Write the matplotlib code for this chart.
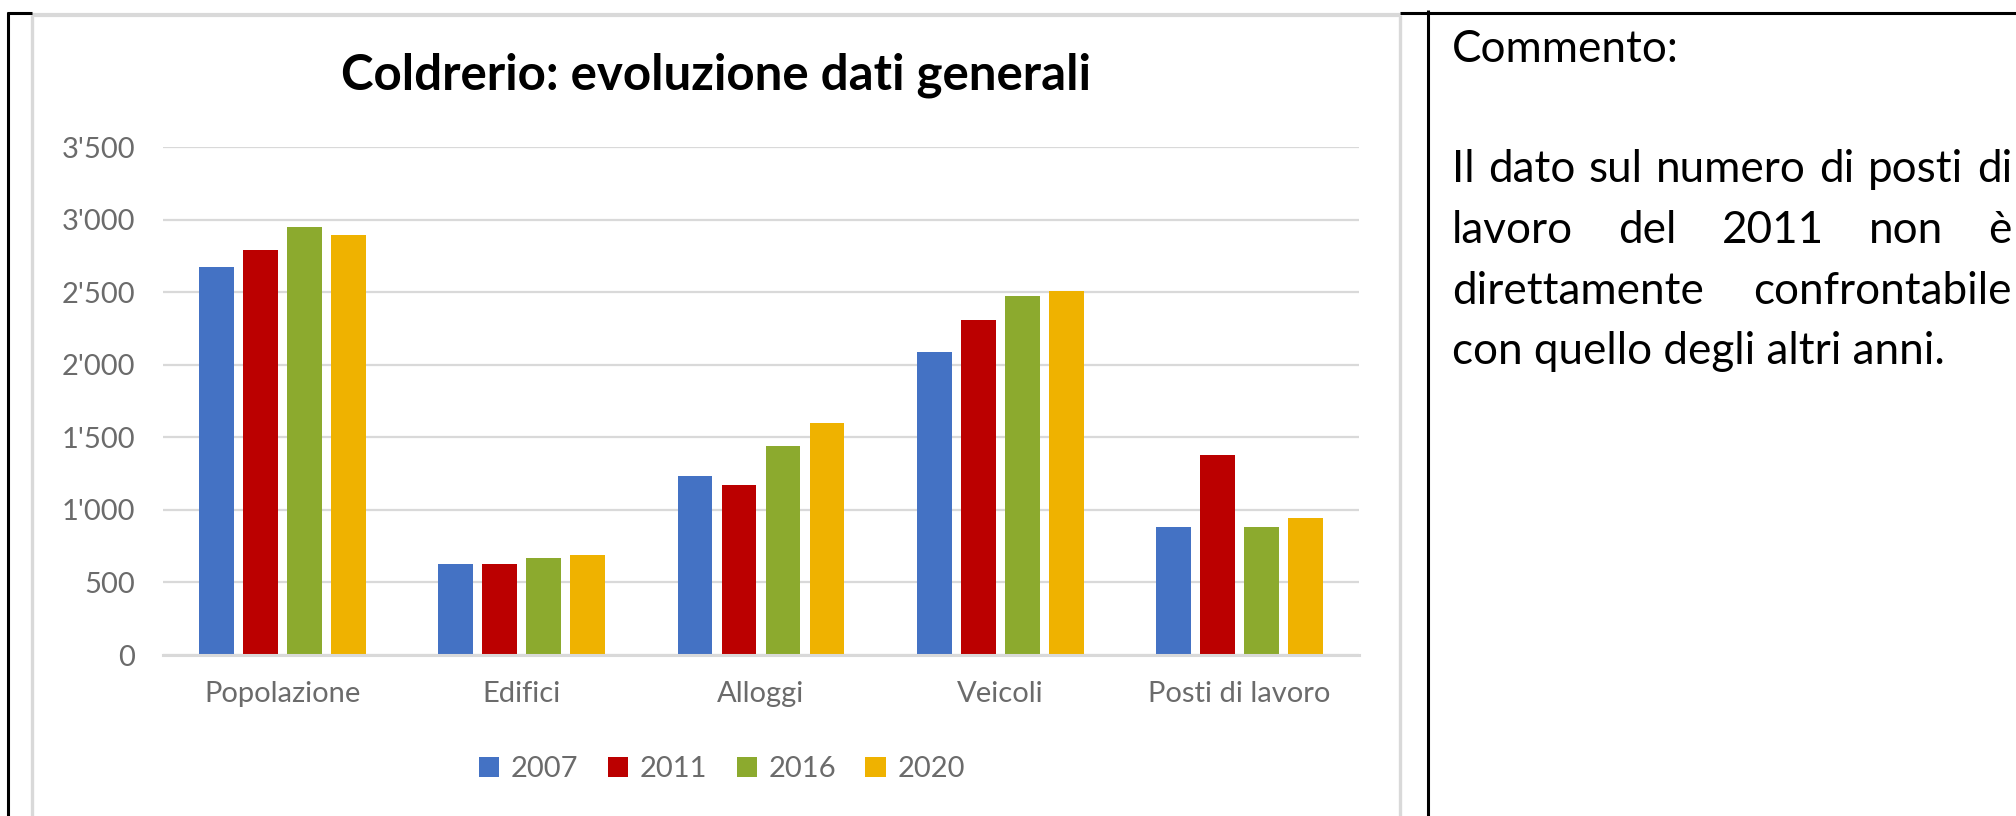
import numpy as np
import matplotlib
matplotlib.use('Agg')
import matplotlib.pyplot as plt
from matplotlib.lines import Line2D
from matplotlib.ticker import FuncFormatter, MultipleLocator

# Dati
categorie = ['Popolazione', 'Edifici', 'Alloggi', 'Veicoli', 'Posti di lavoro']
anni = ['2007', '2011', '2016', '2020']
valori_2007 = [2670, 630, 1230, 2090, 885]
valori_2011 = [2790, 630, 1170, 2310, 1375]
valori_2016 = [2950, 670, 1440, 2470, 885]
valori_2020 = [2895, 690, 1595, 2510, 945]
colori = ['#4472C4', '#BB0000', '#8CAA2E', '#EFB200']

titolo = 'Coldrerio: evoluzione dati generali'
commento_titolo = 'Commento:'
commento_righe = ['Il dato sul numero di posti di',
                  'lavoro del 2011 non è',
                  'direttamente confrontabile',
                  'con quello degli altri anni.']

W, H = 2016, 816
plt.rcParams['font.family'] = ['Lato', 'DejaVu Sans']

fig = plt.figure(figsize=(W / 100, H / 100), dpi=100)


def fx(px):
    return px / W


def fy(py):
    return 1 - py / H


# Grafico a barre
ax = fig.add_axes([fx(163), fy(655), fx(1359) - fx(163), fy(147) - fy(655)])
serie = [valori_2007, valori_2011, valori_2016, valori_2020]
x = np.arange(len(categorie))
passo = 0.184
largh = 0.146
for i, (vals, anno, col) in enumerate(zip(serie, anni, colori)):
    ax.bar(x + (i - 1.5) * passo, vals, largh, color=col, label=anno, zorder=2)

ax.set_xlim(-0.5, len(categorie) - 0.5)
ax.set_ylim(0, 3500)
ax.yaxis.set_major_locator(MultipleLocator(500))
ax.yaxis.set_major_formatter(FuncFormatter(lambda v, p: f"{int(v):,}".replace(',', "'")))
ax.set_xticks(x, categorie)
ax.tick_params(length=0, labelsize=21, labelcolor='#6b6b6b')
ax.tick_params(axis='y', pad=20)
ax.tick_params(axis='x', pad=19)
ax.grid(axis='y', color='#d9d9d9', lw=1.6, zorder=0)
ax.set_axisbelow(True)
for s in ['top', 'right', 'left']:
    ax.spines[s].set_visible(False)
ax.spines['bottom'].set_color('#d9d9d9')
ax.spines['bottom'].set_linewidth(2.2)
ax.spines['bottom'].set_zorder(3)

# Titolo e legenda
fig.text(fx(716), fy(90), titolo, ha='center', va='baseline',
         fontsize=35.5, fontweight='bold', color='black')
fig.legend(loc='center', bbox_to_anchor=(fx(722), fy(769)), ncol=4,
           frameon=False, fontsize=21, handlelength=0.7, handleheight=0.7,
           handletextpad=0.4, columnspacing=1.0, labelcolor='#6b6b6b')

# Bordi della tabella e cornice del grafico
def linea(xs, ys, col, lw):
    fig.add_artist(Line2D([fx(v) for v in xs], [fy(v) for v in ys],
                          transform=fig.transFigure, color=col, lw=lw,
                          solid_capstyle='butt'))

linea([32, 32], [15, H], '#d9d9d9', 2.4)
linea([32, 1400], [15, 15], '#d9d9d9', 3.0)
linea([1400, 1400], [15, H], '#d9d9d9', 2.4)
linea([8, 8], [12, H], 'black', 2.2)
linea([7, 32], [13, 13], 'black', 2.2)
linea([1400, W], [13, 13], 'black', 2.2)
linea([1428, 1428], [10, H], 'black', 2.2)

# Commento (testo giustificato)
renderer = fig.canvas.get_renderer()


def larghezza(testo, fs):
    t = fig.text(0, 0, testo, fontsize=fs)
    w = t.get_window_extent(renderer).width
    t.remove()
    return w


x0, x1 = 1452, 2012
fs_c = 20 * 548 / larghezza(commento_righe[0], 20)
fig.text(fx(x0), fy(62), commento_titolo, fontsize=fs_c, va='baseline', color='black')

basi = [182, 243, 304, 364]
for riga, yb in zip(commento_righe, basi):
    if riga is commento_righe[-1]:
        fig.text(fx(x0), fy(yb), riga, fontsize=fs_c, va='baseline', color='black')
        continue
    parole = riga.split()
    w = [larghezza(p, fs_c) for p in parole]
    spazio = (x1 - x0 - sum(w)) / (len(parole) - 1)
    pos = x0
    for p, wp in zip(parole, w):
        fig.text(fx(pos), fy(yb), p, fontsize=fs_c, va='baseline', color='black')
        pos += wp + spazio

fig.savefig('out.png', dpi=100)
